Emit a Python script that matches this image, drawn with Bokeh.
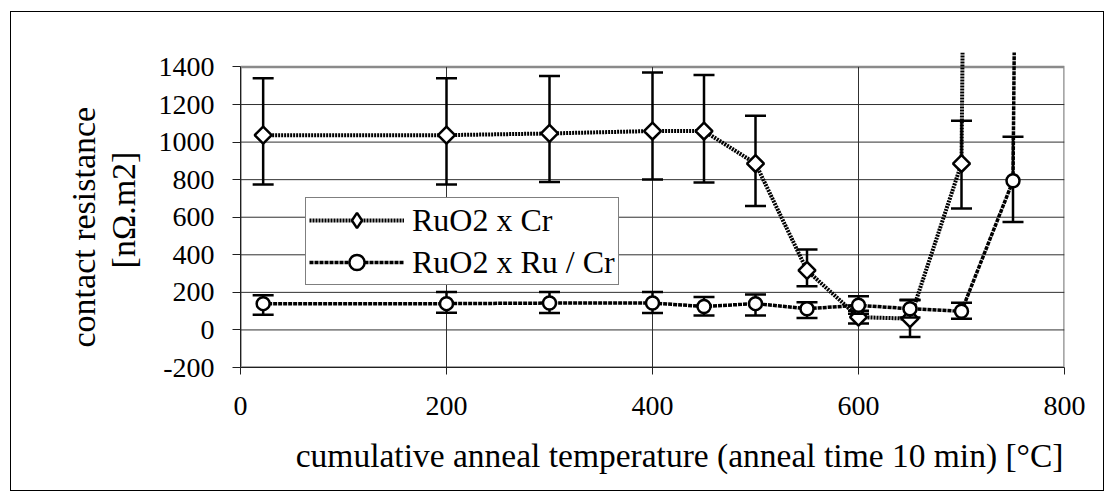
import numpy as np
from bokeh.plotting import figure
from bokeh.models import Range1d, FixedTicker, Legend, LegendItem, Title
from bokeh.embed import file_html
from bokeh.resources import INLINE

# ---------------- data ----------------
x_ticks = [0, 200, 400, 600, 800]
y_ticks = [-200, 0, 200, 400, 600, 800, 1000, 1200, 1400]

cr_temp = [22, 200, 300, 400, 450, 500, 550, 600, 650, 700, 750]
cr_res = [1037, 1037, 1046, 1059, 1059, 886, 317, 68, 60, 886, 30000]
cr_low = [774, 774, 788, 801, 785, 660, 232, 34, -38, 646, 29000]
cr_high = [1340, 1340, 1352, 1370, 1357, 1140, 428, 102, 158, 1114, 31000]

rucr_temp = [22, 200, 300, 400, 450, 500, 550, 600, 650, 700, 750, 800]
rucr_res = [140, 140, 143, 143, 125, 140, 113, 131, 113, 99, 794, 30000]
rucr_low = [81, 92, 90, 90, 77, 77, 63, 86, 66, 60, 575, 29000]
rucr_high = [184, 202, 202, 202, 175, 188, 148, 179, 161, 145, 1028, 31000]

series_names = ["RuO2 x Cr", "RuO2 x Ru / Cr"]
x_title = "cumulative anneal temperature (anneal time 10 min) [°C]"
y_title_lines = ["contact resistance", "[nΩ.m2]"]

FONT = "Liberation Serif"

# ---------------- figure ----------------
p = figure(width=1094, height=480, output_backend="svg", toolbar_location=None,
           x_range=Range1d(0, 800), y_range=Range1d(-200, 1477),
           min_border_left=229, min_border_right=41,
           min_border_top=40, min_border_bottom=125)
p.margin = (11, 0, 0, 10)
p.styles = {"border": "1px solid black"}
p.background_fill_color = "white"
p.border_fill_color = "white"
p.outline_line_color = None
p.xgrid.visible = False
p.ygrid.visible = False

# axes
for ax, ticks in ((p.xaxis, x_ticks), (p.yaxis, y_ticks)):
    ax.ticker = FixedTicker(ticks=ticks)
    ax.minor_tick_line_color = None
    ax.major_tick_in = 0
    ax.axis_line_color = "#202020"
    ax.major_tick_line_color = "#202020"
    ax.major_label_text_font = FONT
    ax.major_label_text_font_size = "28px"
    ax.major_label_text_color = "black"
p.xaxis.bounds = (x_ticks[0], x_ticks[-1])
p.yaxis.bounds = (y_ticks[0], y_ticks[-1])
p.yaxis.major_label_overrides = {t: str(t) for t in y_ticks}
p.xaxis.major_tick_out = 7
p.yaxis.major_tick_out = 8
p.xaxis.major_label_standoff = 22
p.yaxis.major_label_standoff = 18

# y title: unit line as axis label, main line as a side title
p.yaxis.axis_label = y_title_lines[1]
p.yaxis.axis_label_text_font = FONT
p.yaxis.axis_label_text_font_size = "34px"
p.yaxis.axis_label_text_font_style = "normal"
p.yaxis.axis_label_text_color = "black"
p.yaxis.axis_label_standoff = 14
p.add_layout(Title(text=y_title_lines[0], align="left", offset=20,
                   text_font=FONT, text_font_size="34px", text_font_style="normal",
                   text_color="black", standoff=0), "left")

# x title
p.add_layout(Title(text=x_title, align="right", offset=1,
                   text_font=FONT, text_font_size="33.5px", text_font_style="normal",
                   text_color="black", standoff=34), "below")

# plot-area border and grid
p.quad(left=[x_ticks[0]], right=[x_ticks[-1]], bottom=[y_ticks[0]], top=[y_ticks[-1]],
       fill_color=None, line_color="#8a8a8a", line_width=2.5)
hy = y_ticks[1:-1]
p.segment(x0=[x_ticks[0]] * len(hy), x1=[x_ticks[-1]] * len(hy), y0=hy, y1=hy,
          line_color="#303030", line_width=1)
vx = x_ticks[1:-1]
p.segment(x0=vx, x1=vx, y0=[y_ticks[0]] * len(vx), y1=[y_ticks[-1]] * len(vx),
          line_color="#303030", line_width=1)

# series 1: RuO2 x Cr (diamonds)
l1 = p.line(cr_temp, cr_res, line_color="black", line_width=4, line_dash="2 1")
p.segment(x0=cr_temp, x1=cr_temp, y0=cr_low, y1=cr_high, line_color="black", line_width=2.5)
p.scatter(cr_temp, cr_low, marker="dash", size=21, line_color="black", line_width=2.5)
p.scatter(cr_temp, cr_high, marker="dash", size=21, line_color="black", line_width=2.5)
# unrotated diamonds (shown in the legend; hidden under the rotated squares below)
lg1 = p.scatter(cr_temp, cr_res, marker="diamond", size=13,
                fill_color="white", line_color="black", line_width=2.5)
p.scatter(cr_temp, cr_res, marker="square", angle=np.pi / 4, size=12,
          fill_color="white", line_color="black", line_width=2.5)

# series 2: RuO2 x Ru / Cr (circles)
l2 = p.line(rucr_temp, rucr_res, line_color="black", line_width=3.5, line_dash="4 1")
p.segment(x0=rucr_temp, x1=rucr_temp, y0=rucr_low, y1=rucr_high, line_color="black", line_width=2.5)
p.scatter(rucr_temp, rucr_low, marker="dash", size=21, line_color="black", line_width=2.5)
p.scatter(rucr_temp, rucr_high, marker="dash", size=21, line_color="black", line_width=2.5)
m2 = p.scatter(rucr_temp, rucr_res, marker="circle", size=13,
               fill_color="white", line_color="black", line_width=2.5)

legend = Legend(items=[LegendItem(label=series_names[0], renderers=[l1, lg1]),
                       LegendItem(label=series_names[1], renderers=[l2, m2])],
                location=(65, 82), orientation="vertical",
                glyph_width=95, glyph_height=38, label_height=38,
                label_standoff=8, padding=3, spacing=4, margin=0,
                label_text_font=FONT, label_text_font_size="32px",
                label_text_color="black",
                border_line_color="black", border_line_width=1,
                background_fill_color="white", background_fill_alpha=1)
p.add_layout(legend, "center")

open("out.html", "w").write(file_html(p, INLINE))
